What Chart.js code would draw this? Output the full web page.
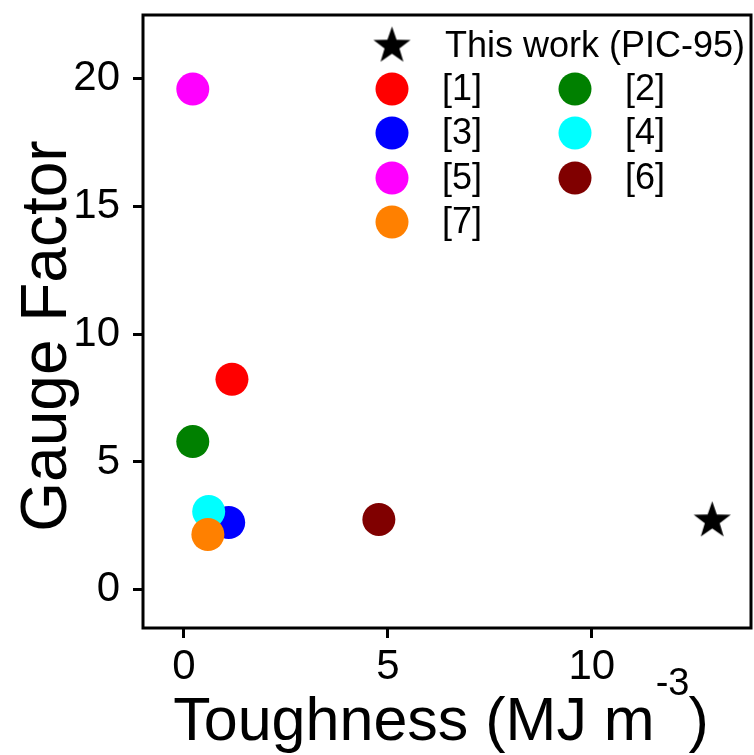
<!DOCTYPE html>
<html>
<head>
<meta charset="utf-8">
<script src="https://cdn.jsdelivr.net/npm/chart.js@4.4.0/dist/chart.umd.min.js"></script>
<style>
html, body { margin: 0; padding: 0; background: #fff; }
</style>
</head>
<body>
<canvas id="myChart" width="754" height="755"></canvas>
<script>
// data
var labels = ['This work (PIC-95)', '[1]', '[2]', '[3]', '[4]', '[5]', '[6]', '[7]'];
var toughness = [12.95, 1.18, 0.22, 1.10, 0.61, 0.22, 4.78, 0.59];
var gaugeFactor = [2.70, 8.24, 5.80, 2.63, 3.06, 19.60, 2.75, 2.16];
var colors = ['#000000', '#ff0000', '#008000', '#0000ff', '#00ffff', '#ff00ff', '#800000', '#ff8000'];
var xTicks = [0, 5, 10];
var yTicks = [0, 5, 10, 15, 20];

var FONT = '"Liberation Sans", Arial, sans-serif';

function makeStar(r) {
    var c = document.createElement('canvas');
    c.width = c.height = Math.ceil(r * 2) + 2;
    var g = c.getContext('2d');
    var cx = c.width / 2, cy = c.height / 2;
    g.beginPath();
    for (var i = 0; i < 10; i++) {
        var rad = i % 2 == 0 ? r : r * 0.4;
        var a = -Math.PI / 2 + i * Math.PI / 5;
        g.lineTo(cx + rad * Math.cos(a), cy + rad * Math.sin(a));
    }
    g.closePath();
    g.fillStyle = '#000';
    g.fill();
    return c;
}
var star = makeStar(19.5);

var datasets = [];
for (var i = 0; i < labels.length; i++) {
    datasets.push({
        label: labels[i],
        data: [{x: toughness[i], y: gaugeFactor[i]}],
        pointStyle: i == 0 ? star : 'circle',
        pointRadius: 16.5,
        pointHoverRadius: 16.5,
        backgroundColor: colors[i],
        borderColor: colors[i],
        borderWidth: 0,
        order: i == 0 ? 0 : 8 - i   // later refs drawn on top
    });
}

// no extra room for overhanging tick labels
function noPad(s) {
    s.paddingTop = 0; s.paddingBottom = 0;
    s.paddingLeft = 0; s.paddingRight = 0;
}

// frame, axis titles and the two-column legend
var decorations = {
    id: 'decorations',
    afterDraw: function(chart) {
        var ctx = chart.ctx;
        var a = chart.chartArea;
        ctx.save();
        ctx.strokeStyle = '#000';
        ctx.lineWidth = 3;
        ctx.strokeRect(a.left, a.top, a.right - a.left, a.bottom - a.top);

        ctx.fillStyle = '#000';
        // y title
        ctx.save();
        ctx.translate(66, 336);
        ctx.rotate(-Math.PI / 2);
        ctx.font = '64px ' + FONT;
        ctx.textAlign = 'center';
        ctx.textBaseline = 'alphabetic';
        ctx.fillText('Gauge Factor', 0, 0);
        ctx.restore();

        // x title with superscript
        var t1 = 'Toughness (MJ m', t2 = '-3', t3 = ')';
        ctx.textAlign = 'left';
        ctx.textBaseline = 'alphabetic';
        ctx.font = '61px ' + FONT;
        var w1 = ctx.measureText(t1).width, w3 = ctx.measureText(t3).width;
        ctx.font = '38px ' + FONT;
        var w2 = ctx.measureText(t2).width;
        var x0 = 441 - (w1 + w2 + w3) / 2;
        ctx.font = '61px ' + FONT;
        ctx.fillText(t1, x0, 740);
        ctx.fillText(t3, x0 + w1 + w2, 740);
        ctx.font = '38px ' + FONT;
        ctx.fillText(t2, x0 + w1 + 1, 695);

        // legend
        var colX = [392, 575];
        var rowY = [46, 89, 133, 178, 222];
        ctx.font = '36px ' + FONT;
        ctx.textBaseline = 'middle';
        for (var i = 0; i < chart.data.datasets.length; i++) {
            var ds = chart.data.datasets[i];
            var mx, my;
            if (i == 0) { mx = colX[0]; my = rowY[0]; }
            else { mx = colX[(i - 1) % 2]; my = rowY[1 + Math.floor((i - 1) / 2)]; }
            if (i == 0) {
                ctx.drawImage(star, mx - star.width / 2, my - star.height / 2);
            } else {
                ctx.beginPath();
                ctx.arc(mx, my, 16.5, 0, Math.PI * 2);
                ctx.fillStyle = ds.backgroundColor;
                ctx.fill();
            }
            ctx.fillStyle = '#000';
            ctx.fillText(ds.label, mx + (i == 0 ? 53 : 50), my + 1);
        }
        ctx.restore();
    }
};

var ctx = document.getElementById('myChart').getContext('2d');
var chart = new Chart(ctx, {
    type: 'scatter',
    data: { datasets: datasets },
    options: {
        responsive: false,
        animation: false,
        layout: { autoPadding: false, padding: { top: 15, right: 3, left: 0, bottom: 0 } },
        plugins: {
            legend: { display: false },
            tooltip: { enabled: false }
        },
        scales: {
            x: {
                min: -1, max: 13.9,
                afterBuildTicks: function(s) { s.ticks = xTicks.map(function(v) { return {value: v}; }); },
                afterFit: function(s) { s.height = 127; noPad(s); },
                border: { display: false },
                grid: { drawOnChartArea: false, tickLength: 10, lineWidth: 3, color: '#000' },
                ticks: { color: '#000', padding: 4, font: { size: 42, family: FONT }, maxRotation: 0 }
            },
            y: {
                min: -1.5, max: 22.5,
                afterBuildTicks: function(s) { s.ticks = yTicks.map(function(v) { return {value: v}; }); },
                afterFit: function(s) { s.width = 143; noPad(s); },
                border: { display: false },
                grid: { drawOnChartArea: false, tickLength: 10, lineWidth: 3, color: '#000' },
                ticks: { color: '#000', padding: 13, font: { size: 42, family: FONT } }
            }
        }
    },
    plugins: [decorations]
});
</script>
</body>
</html>
